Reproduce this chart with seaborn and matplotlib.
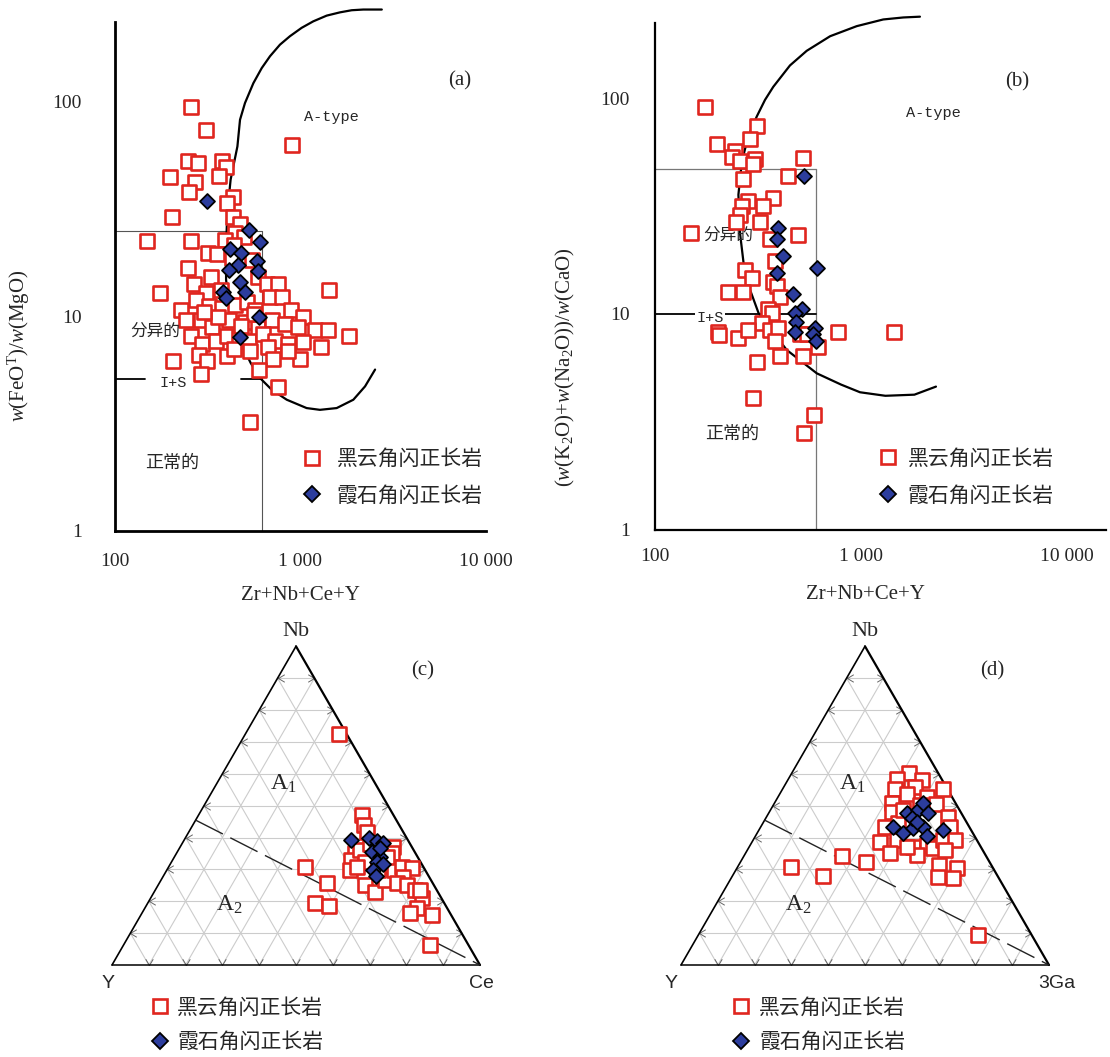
import matplotlib
matplotlib.use('Agg')
import matplotlib.pyplot as plt
import seaborn as sns
import numpy as np
from matplotlib.lines import Line2D
from matplotlib.path import Path
from matplotlib.ticker import FixedLocator, FixedFormatter, NullFormatter

# ---------------- data ----------------
# (a) Zr+Nb+Ce+Y vs FeOT/MgO
a_bio_x = [256, 308, 901, 246, 281, 378, 397, 363, 198, 270, 251, 431, 402, 203, 431, 474, 446,
           149, 256, 391, 494, 436, 318, 356, 428, 246, 328, 593, 547, 267, 658, 759,
           174, 308, 371, 1419, 227, 273, 321, 378, 446, 514, 570, 685, 790, 893, 1031,
           241, 290, 335, 411, 504, 593, 699, 824, 970, 1191, 1402, 1829,
           256, 296, 349, 402, 464, 525, 631, 728, 858, 1031, 1291,
           284, 205, 315, 402, 536, 671, 713, 989, 858, 290, 598, 759, 536,
           360, 440, 560, 300, 480]
a_bio_y = [94.4, 73.9, 62.9, 53.2, 51.7, 53.2, 49.5, 45.1, 44.8, 42.4, 38.1, 35.9, 33.6, 29.1, 29.1, 26.9, 24.5,
           22.3, 22.3, 22.6, 23.5, 21.5, 19.8, 19.5, 18.6, 16.7, 15.3, 15.3, 18.3, 14.2, 14.2, 14.2,
           12.8, 12.8, 13.2, 13.2, 10.7, 11.9, 11.1, 10.9, 11.3, 11.7, 10.7, 12.3, 12.3, 10.7, 9.9,
           9.6, 9.6, 8.9, 9.6, 9.4, 8.8, 9.6, 9.2, 8.9, 8.6, 8.6, 8.1,
           8.1, 7.4, 7.7, 8.1, 8.0, 7.7, 8.3, 7.7, 7.4, 7.6, 7.2,
           6.6, 6.2, 6.2, 6.5, 6.9, 7.2, 6.3, 6.3, 6.9, 5.4, 5.6, 4.7, 3.2,
           9.9, 7.0, 10.2, 10.5, 9.0]
a_neph_x = [315, 525, 606, 419, 480, 581, 460, 414, 593, 474, 504, 381, 397, 598, 474]
a_neph_y = [34.5, 25.2, 22.1, 20.5, 19.8, 18.1, 17.3, 16.5, 16.2, 14.5, 13.0, 13.0, 12.1, 9.9, 8.0]
a_curve_x = [2743, 2181, 1888, 1633, 1384, 1172, 1014, 877, 775, 685, 618, 557, 502, 472, 457,
             420, 403, 397, 397, 413, 443, 488, 539, 605, 700, 843, 1079, 1273, 1567, 1927, 2229, 2524]
a_curve_y = [269, 269, 267, 261, 252, 237, 221, 202, 184.5, 163, 143.5, 122, 98.6, 82.4, 61.9,
             43.3, 30.3, 21.1, 14.8, 11.1, 8.95, 7.2, 6.05, 5.15, 4.54, 4.08, 3.73, 3.66, 3.73, 4.08, 4.71, 5.64]
a_fg_y = 25
a_split_x = 620
a_is_y = 5.1
a_is_segments = [(100, 145), (475, 620)]

# (b) Zr+Nb+Ce+Y vs (K2O+Na2O)/CaO
b_bio_x = [175, 312, 289, 199, 245, 236, 259, 306, 298, 522, 267, 444,
           284, 375, 263, 336, 259, 247, 323, 149, 362, 497,
           383, 274, 295, 375, 390, 227, 267, 405,
           355, 369, 330, 203, 205, 254, 284, 362, 397, 383, 506, 545, 621, 770, 1446,
           312, 405, 525, 298, 593, 531]
b_bio_y = [91.5, 74.3, 64.6, 61.3, 57.1, 53.3, 51.4, 52.3, 49.6, 52.7, 42.4, 43.6,
           33.4, 34.4, 31.7, 31.7, 28.9, 26.8, 26.8, 23.8, 22.3, 23.2,
           17.6, 15.9, 14.6, 14.1, 13.5, 12.6, 12.6, 12.0,
           10.5, 10.1, 9.1, 8.2, 8.0, 7.7, 8.4, 8.4, 8.6, 7.5, 8.1, 8.1, 7.0, 8.2, 8.2,
           6.0, 6.4, 6.4, 4.07, 3.40, 2.80]
b_neph_x = [529, 397, 393, 420, 390, 610, 466, 516, 478, 484, 478, 598, 587, 604]
b_neph_y = [43.6, 25.1, 22.3, 18.5, 15.4, 16.3, 12.4, 10.5, 10.1, 9.2, 8.2, 8.6, 8.1, 7.5]
b_curve_x = [1932, 1603, 1282, 953, 708, 545, 452, 375, 342, 312, 284, 264, 254, 259, 274, 318,
             436, 610, 800, 989, 1313, 1816, 2311]
b_curve_y = [239, 237, 232, 216, 194, 166, 142, 113, 98.3, 82.4, 66.8, 51, 35.7, 23.4, 14.9, 10.1,
             6.8, 5.3, 4.7, 4.33, 4.17, 4.22, 4.6]
b_fg_y = 47
b_split_x = 604
b_is_y = 10

# (c) Nb-Y-Ce ternary (fractions of Nb and Ce, Y is the rest)
c_bio_nb = [0.724, 0.470, 0.439, 0.418, 0.308, 0.256, 0.193, 0.185, 0.350, 0.329, 0.360, 0.381,
            0.324, 0.371, 0.350, 0.251, 0.230, 0.266, 0.298, 0.308, 0.303, 0.277, 0.256, 0.251,
            0.235, 0.209, 0.178, 0.162, 0.157, 0.063, 0.298, 0.308, 0.340, 0.235, 0.298]
c_bio_ce = [0.256, 0.444, 0.464, 0.483, 0.371, 0.455, 0.455, 0.498, 0.485, 0.486, 0.494, 0.510,
            0.526, 0.579, 0.585, 0.562, 0.600, 0.609, 0.616, 0.633, 0.663, 0.653, 0.646, 0.676,
            0.706, 0.737, 0.739, 0.729, 0.790, 0.833, 0.498, 0.511, 0.577, 0.720, 0.575]
c_neph_nb = [0.392, 0.397, 0.389, 0.383, 0.355, 0.340, 0.324, 0.317, 0.298, 0.280, 0.366]
c_neph_ce = [0.453, 0.500, 0.525, 0.544, 0.528, 0.558, 0.557, 0.579, 0.561, 0.577, 0.545]

# (d) Nb-Y-3Ga ternary
d_bio_nb = [0.603, 0.585, 0.582, 0.551, 0.551, 0.559, 0.538, 0.528, 0.507, 0.505, 0.465, 0.481,
            0.434, 0.444, 0.432, 0.387, 0.392, 0.371, 0.376, 0.366, 0.392, 0.392, 0.350, 0.345,
            0.314, 0.303, 0.277, 0.272, 0.342, 0.324, 0.306, 0.279, 0.094, 0.361, 0.486, 0.502, 0.371]
d_bio_ga = [0.319, 0.294, 0.363, 0.436, 0.306, 0.356, 0.344, 0.404, 0.319, 0.441, 0.494, 0.332,
            0.338, 0.369, 0.515, 0.348, 0.390, 0.446, 0.480, 0.503, 0.515, 0.549, 0.393, 0.468,
            0.543, 0.598, 0.561, 0.602, 0.266, 0.341, 0.145, 0.247, 0.761, 0.537, 0.361, 0.399, 0.428]
d_neph_nb = [0.434, 0.413, 0.478, 0.429, 0.486, 0.507, 0.478, 0.434, 0.404, 0.425, 0.460, 0.449]
d_neph_ga = [0.360, 0.398, 0.375, 0.417, 0.402, 0.405, 0.433, 0.440, 0.467, 0.500, 0.397, 0.416]

a1a2_nb = 1 / 2.2   # Y/Nb = 1.2 boundary

labels = ['黑云角闪正长岩', '霞石角闪正长岩']

# ---------------- style ----------------
sns.set_theme(style='white')
plt.rcParams['font.family'] = ['Liberation Serif', 'Noto Sans CJK SC', 'DejaVu Sans']
plt.rcParams['mathtext.fontset'] = 'custom'
plt.rcParams['mathtext.rm'] = 'Liberation Serif'
plt.rcParams['mathtext.it'] = 'Liberation Serif:italic'

RED = '#e0261f'
BLUE = '#2c3d9e'
CJK = ['Noto Sans CJK SC', 'DejaVu Sans']
MONO = ['Liberation Mono', 'DejaVu Sans Mono']
NARROW = ['Liberation Sans Narrow', 'Liberation Sans', 'DejaVu Sans']

W, H = 1110, 1057
fig = plt.figure(figsize=(W / 100, H / 100), dpi=100)


def px_axes(x0, y0, x1, y1):
    return fig.add_axes([x0 / W, 1 - y1 / H, (x1 - x0) / W, (y1 - y0) / H])


def scatter_pair(ax, bx, by, nx, ny):
    sns.scatterplot(x=bx, y=by, marker='s', s=88, color='white', edgecolor=RED,
                    linewidth=1.9, ax=ax, zorder=4, clip_on=False)
    sns.scatterplot(x=nx, y=ny, marker='D', s=58, color=BLUE, edgecolor='black',
                    linewidth=1.3, ax=ax, zorder=5, clip_on=False)


bio_handle = Line2D([], [], ls='none', marker='s', ms=10, mfc='white', mec=RED, mew=1.9)
neph_handle = Line2D([], [], ls='none', marker='D', ms=8, mfc=BLUE, mec='black', mew=1.3)


def add_legend(x_px, y_px, pad, spacing=0.7):
    fig.legend([bio_handle, neph_handle], labels, loc='center left',
               bbox_to_anchor=(x_px / W, 1 - y_px / H), frameon=False,
               prop={'family': CJK, 'size': 15}, handlelength=1.0,
               handletextpad=pad, labelspacing=spacing, borderpad=0, borderaxespad=0)


def log_panel(ax, xlim, ylim, spine_top, ylab, ylab_xy, ypad, xpad, lw):
    ax.set_xscale('log')
    ax.set_yscale('log')
    ax.set_xlim(*xlim)
    ax.set_ylim(*ylim)
    for s in ['top', 'right']:
        ax.spines[s].set_visible(False)
    for s in ['left', 'bottom']:
        ax.spines[s].set_color('black')
        ax.spines[s].set_linewidth(lw)
    ax.spines['left'].set_bounds(1, spine_top)
    ax.spines['bottom'].set_bounds(xlim[0], xlim[1])
    ax.xaxis.set_major_locator(FixedLocator([100, 1000, 10000]))
    ax.xaxis.set_major_formatter(FixedFormatter(['100', '1 000', '10 000']))
    ax.xaxis.set_minor_locator(FixedLocator([m * d for d in (100, 1000) for m in range(2, 10)]))
    ax.xaxis.set_minor_formatter(NullFormatter())
    ax.yaxis.set_major_locator(FixedLocator([1, 10, 100]))
    ax.yaxis.set_major_formatter(FixedFormatter(['1', '10', '100']))
    ax.yaxis.set_minor_locator(FixedLocator([m * d for d in (1, 10) for m in range(2, 10)] + [200]))
    ax.yaxis.set_minor_formatter(NullFormatter())
    ax.tick_params(which='both', direction='in', color='black', width=1.3, labelsize=14)
    ax.tick_params(axis='y', which='major', length=9, pad=ypad)
    ax.tick_params(axis='y', which='minor', length=4.5)
    ax.tick_params(axis='x', which='major', length=8, pad=xpad)
    ax.tick_params(axis='x', which='minor', length=4)
    ax.set_ylabel(ylab, fontsize=15)
    ax.yaxis.set_label_coords(*ylab_xy)
    ax.yaxis.label.set_va('center')
    ax.set_xlabel('Zr+Nb+Ce+Y', fontsize=15)
    ax.xaxis.label.set_va('center')


# ---------------- (a) ----------------
ax = px_axes(115, 0, 486, 530.7)
log_panel(ax, (100, 10000), (1, 298), 235, r'$w$(FeO$^{\mathrm{T}}$)/$w$(MgO)',
          (-0.259, 0.349), 24, 16, 2.0)
ax.xaxis.set_label_coords(0.499, -0.122)
ax.plot([100, a_split_x], [a_fg_y, a_fg_y], color='#555555', lw=0.8, zorder=1)
ax.plot([a_split_x, a_split_x], [1, a_fg_y], color='#555555', lw=0.8, zorder=1)
for seg in a_is_segments:
    ax.plot(seg, [a_is_y, a_is_y], color='black', lw=1.3, zorder=1)
ax.plot(a_curve_x, a_curve_y, color='black', lw=1.6, zorder=2, clip_on=False)
scatter_pair(ax, a_bio_x, a_bio_y, a_neph_x, a_neph_y)
ax.text(0.93, 0.848, '(a)', transform=ax.transAxes, fontsize=15, ha='center', va='center')
ax.text(0.582, 0.779, 'A-type', transform=ax.transAxes, family=MONO, fontsize=11,
        ha='center', va='center')
ax.text(0.108, 0.376, '分异的', transform=ax.transAxes, family=CJK, fontsize=12,
        ha='center', va='center', zorder=6)
ax.text(0.156, 0.278, 'I+S', transform=ax.transAxes, family=MONO, fontsize=11,
        ha='center', va='center', zorder=3)
ax.text(0.155, 0.127, '正常的', transform=ax.transAxes, family=CJK, fontsize=13,
        ha='center', va='center')
add_legend(302, 477.5, 0.65)

# ---------------- (b) ----------------
ax = px_axes(655, 0, 1105.5, 529.5)
log_panel(ax, (100, 15370), (1, 285.6), 223,
          r'($w$(K$_2$O)+$w$(Na$_2$O))/$w$(CaO)', (-0.199, 0.307), 18, 13, 1.6)
ax.xaxis.set_label_coords(0.467, -0.123)
ax.plot([100, b_split_x], [b_fg_y, b_fg_y], color='#777777', lw=0.9, zorder=1)
ax.plot([b_split_x, b_split_x], [1, b_fg_y], color='#777777', lw=0.9, zorder=1)
ax.plot([100, b_split_x], [b_is_y, b_is_y], color='black', lw=1.3, zorder=1)
ax.plot(b_curve_x, b_curve_y, color='black', lw=1.6, zorder=2, clip_on=False)
scatter_pair(ax, b_bio_x, b_bio_y, b_neph_x, b_neph_y)
ax.text(0.804, 0.845, '(b)', transform=ax.transAxes, fontsize=15, ha='center', va='center')
ax.text(0.617, 0.786, 'A-type', transform=ax.transAxes, family=MONO, fontsize=11,
        ha='center', va='center')
ax.text(0.162, 0.555, '分异的', transform=ax.transAxes, family=CJK, fontsize=12,
        ha='center', va='center', zorder=3)
ax.text(0.122, 0.399, 'I+S', transform=ax.transAxes, family=MONO, fontsize=11,
        ha='center', va='center', zorder=3,
        bbox=dict(facecolor='white', edgecolor='none', pad=1))
ax.text(0.172, 0.181, '正常的', transform=ax.transAxes, family=CJK, fontsize=13,
        ha='center', va='center')
add_legend(878, 477, 0.42)

# ---------------- ternary panels ----------------
HT = np.sqrt(3) / 2


def tern_xy(nb, right):
    nb = np.asarray(nb, dtype=float)
    right = np.asarray(right, dtype=float)
    return right + nb / 2, nb * HT


def chevron(pts):
    return Path(pts, [Path.MOVETO, Path.LINETO, Path.LINETO])


CH_LEFT = chevron([(1, 0.6), (0, 0), (1, -0.6)])
CH_RIGHT = chevron([(-1, 0.6), (0, 0), (-1, -0.6)])
CH_DOWN = chevron([(-0.6, 1), (0, 0), (0.6, 1)])


def ternary_panel(x0, right_name, tag, bio_nb, bio_r, neph_nb, neph_r, lab_pos):
    ax = px_axes(x0, 600, x0 + 468, 1000)
    ax.set_xlim(-0.1359, 1.1359)
    ax.set_ylim(-0.0951, 0.9918)
    ax.axis('off')
    ks = np.arange(1, 10) / 10
    for k in ks:
        ax.plot([k / 2, 1 - k / 2], [k * HT, k * HT], color='#cccccc', lw=0.8, zorder=1)
        ax.plot([k, k + (1 - k) / 2], [0, (1 - k) * HT], color='#cccccc', lw=0.8, zorder=1)
        ax.plot([1 - k, (1 - k) / 2], [0, (1 - k) * HT], color='#cccccc', lw=0.8, zorder=1)
    ax.plot(ks / 2, ks * HT, ls='none', marker=CH_LEFT, ms=9, mfc='none', mec='#666666', mew=0.7)
    ax.plot(1 - ks / 2, ks * HT, ls='none', marker=CH_RIGHT, ms=9, mfc='none', mec='#666666', mew=0.7)
    ax.plot(ks, np.zeros_like(ks), ls='none', marker=CH_DOWN, ms=9, mfc='none', mec='#666666', mew=0.7)
    ax.plot([0, 1], [0, 0], color='black', lw=1.1, zorder=2)
    ax.plot([0, 0.5], [0, HT], color='black', lw=1.2, zorder=2)
    ax.plot([0.5, 1], [HT, 0], color='black', lw=1.6, zorder=2)
    bx0, by0 = tern_xy(a1a2_nb, 0)
    ax.plot([bx0, 1], [by0, 0], color='#222222', lw=1.0, dashes=(22, 6), zorder=3)
    bx, by = tern_xy(bio_nb, bio_r)
    nx, ny = tern_xy(neph_nb, neph_r)
    scatter_pair(ax, bx, by, nx, ny)
    ax.text(0.5, 0.905, 'Nb', fontsize=16, ha='center', va='center')
    ax.text(lab_pos[0], -0.05, 'Y', family=NARROW, fontsize=14, ha='center', va='center')
    ax.text(lab_pos[1], -0.05, right_name, family=NARROW, fontsize=14, ha='center', va='center')
    ax.text(0.845, 0.80, tag, fontsize=15, ha='center', va='center')
    ax.text(0.465, 0.493, r'A$_{1}$', fontsize=17, ha='center', va='center')
    ax.text(0.32, 0.163, r'A$_{2}$', fontsize=17, ha='center', va='center')
    return ax


ternary_panel(62, 'Ce', '(c)', c_bio_nb, c_bio_ce, c_neph_nb, c_neph_ce, (-0.012, 1.005))
add_legend(150, 1025, 0.3, 0.6)
ternary_panel(631, '3Ga', '(d)', d_bio_nb, d_bio_ga, d_neph_nb, d_neph_ga, (-0.026, 1.02))
add_legend(731, 1025, 0.35, 0.6)

fig.savefig('out.png', dpi=100, facecolor='white')
